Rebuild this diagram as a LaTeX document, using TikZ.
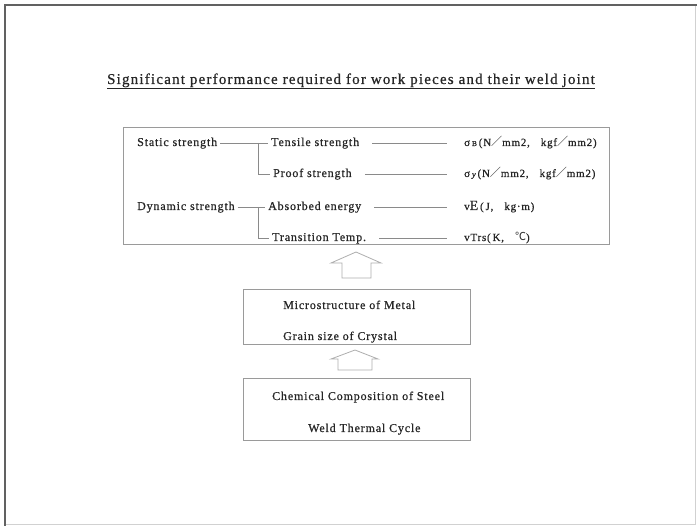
\documentclass[tikz,border=0pt]{standalone}
\usepackage{fontspec}
\setmainfont{Liberation Serif}[LetterSpace=7, FakeBold=0.6]
\newfontfamily\cjk{Noto Sans CJK JP}
\definecolor{inkgray}{HTML}{262626}
\definecolor{rulegray}{HTML}{8A8A8A}
\definecolor{boxgray}{HTML}{9A9A9A}
\begin{document}
\begin{tikzpicture}[x=1pt,y=-1pt,
  lbl/.style={anchor=base west, inner sep=3pt, text=inkgray,
    font=\fontsize{12}{14}\selectfont, text height=8.5pt, text depth=2.5pt},
  unitlbl/.style={lbl, font=\fontsize{11}{13}\selectfont},
  panel/.style={draw=boxgray, line width=0.9pt, anchor=north west, inner sep=0pt},
  link/.style={draw=rulegray, line width=0.7pt},
  longlink/.style={link, shorten >=14pt, shorten <=10pt},
  blockarrow/.style={draw=boxgray!80, line width=0.8pt, line join=miter}]
\useasboundingbox (0,0) rectangle (697,526);
\fill[white] (0,0) rectangle (697,526);
% page frame
\draw[black!18, line width=0.8pt] (695,5) -- (695,524) -- (5,524);
\draw[black!62, line width=2.6pt] (5,526) -- (5,5) -- (697,5);

% heading
\node[anchor=base, text=inkgray, font=\fontsize{15}{17}\selectfont\addfontfeatures{LetterSpace=8}, inner sep=0pt]
  (title) at (351,84) {\underline{Significant performance required for work pieces and their weld joint}};

% performance panel
\node[panel, minimum width=486pt, minimum height=117pt] (perf) at (123,127) {};
\node[lbl] (st) at (134,146) {Static strength};
\node[lbl] (ts) at (268,146) {Tensile strength};
\node[unitlbl] (sb) at (461,146) {σ\,{\fontsize{7.5}{8}\selectfont B}\,(N{\cjk ／}mm2,\quad kgf{\cjk ／}mm2)};
\node[lbl] (ps) at (270,177) {Proof strength};
\node[unitlbl] (sy) at (461,177) {σ\,{\fontsize{8.5}{9}\selectfont\itshape y}\,(N{\cjk ／}mm2,\quad kgf{\cjk ／}mm2)};
\node[lbl] (ds) at (134,210) {Dynamic strength};
\node[lbl] (ae) at (265,210) {Absorbed energy};
\node[unitlbl] (ve) at (461,210) {v{\fontsize{14}{14}\selectfont E}\,(\,J,\quad kg·m)};
\node[lbl] (tt) at (269,241) {Transition Temp.};
\node[unitlbl] (vt) at (461,241) {vTrs(\,K,\quad {\cjk ℃})};

% branch points
\coordinate (sj) at (258,0 |- ts.west);
\coordinate (dj) at (258,0 |- ae.west);

\draw[link] (st.east) -- (ts.west);
\draw[link] (sj) |- (ps.west);
\draw[link] (ds.east) -- (ae.west);
\draw[link] (dj) |- (tt.west);

\draw[longlink] (ts.east) -- (sb.west);
\draw[longlink] (ps.east) -- (sy.west);
\draw[longlink] (ae.east) -- (ve.west);
\draw[longlink] (tt.east) -- (vt.west);

% microstructure panel
\node[panel, minimum width=227pt, minimum height=55pt] (micro) at (243,289) {};
\node[lbl] (m1) at (280,309) {Microstructure of Metal};
\node[lbl] (m2) at (280,340) {Grain size of Crystal};

% composition panel
\node[panel, minimum width=227pt, minimum height=62pt] (chem) at (243,378) {};
\node[lbl] (c1) at (269,400) {Chemical Composition of Steel};
\node[lbl] (c2) at (305,432) {Weld Thermal Cycle};

% hollow upward arrows
\draw[blockarrow] (342,278) -- (342,263) -- (331,263) -- (356,252) -- (381,263)
  -- (371,263) -- (371,278) -- cycle;
\draw[blockarrow] (338,370) -- (338,359) -- (331,359) -- (355,350) -- (378,359)
  -- (372,359) -- (372,370) -- cycle;
\end{tikzpicture}
\end{document}
